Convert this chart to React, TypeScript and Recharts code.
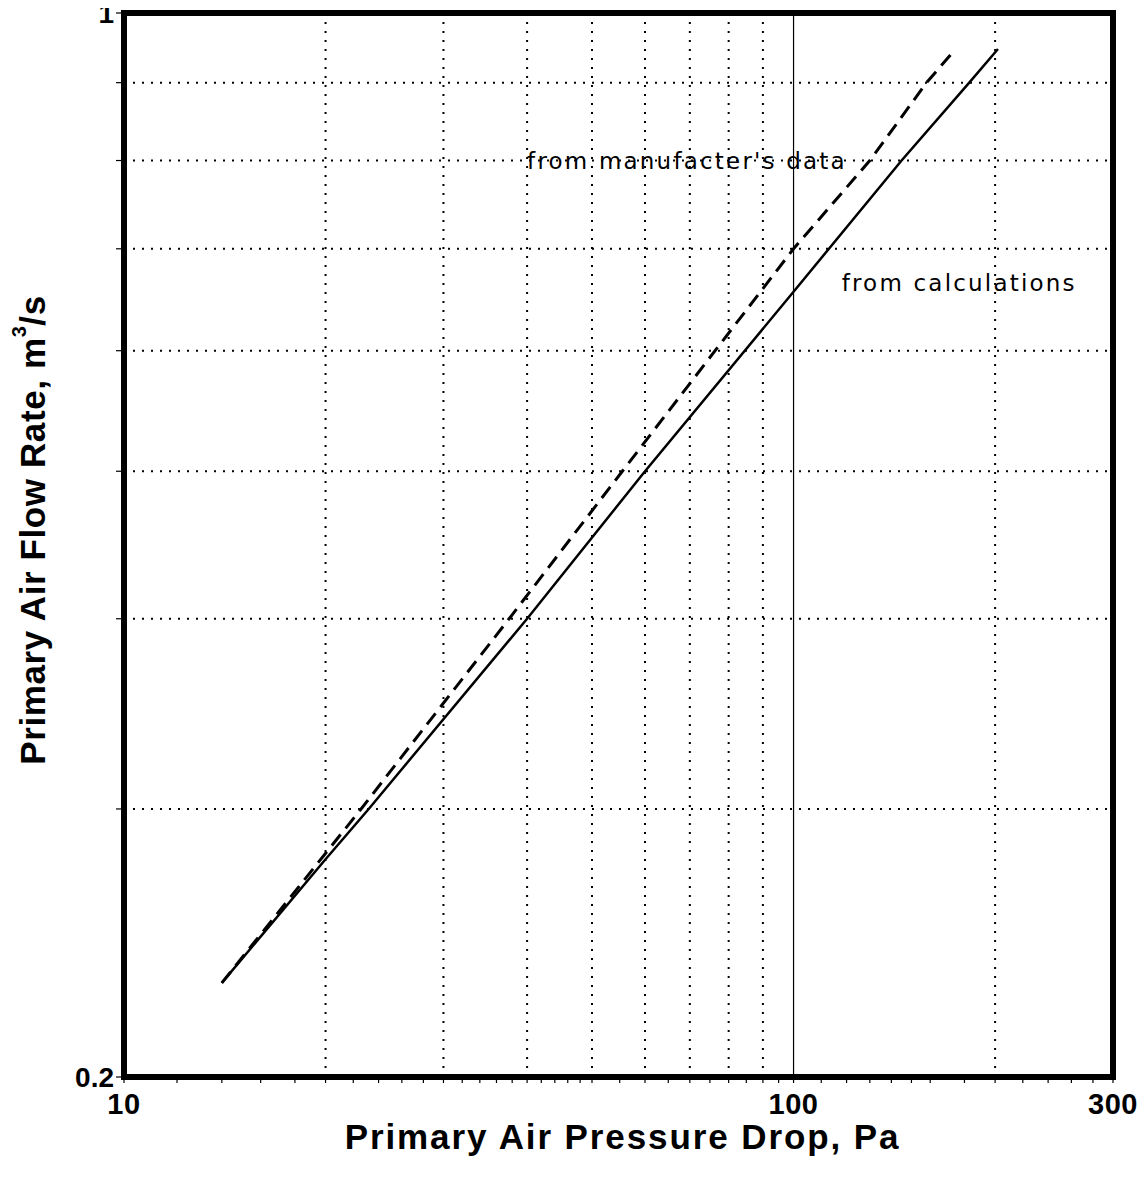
import React from "react";
import {
  LineChart,
  Line,
  XAxis,
  YAxis,
  ReferenceLine,
  ReferenceArea,
  ReferenceDot,
} from "recharts";

// pressure drop (Pa) vs flow (m3/s)
const CALC_DP = [14, 20, 23.2, 40, 60, 100, 145, 183, 202];
const CALC_Q = [0.2306, 0.278, 0.3, 0.4, 0.5, 0.656, 0.8, 0.9, 0.947];
const MFR_DP = [14, 22.6, 37.6, 55.5, 100, 130, 158, 173.5];
const MFR_Q = [0.2306, 0.3, 0.4, 0.5, 0.7, 0.8, 0.9, 0.944];

const X_TICKS = [
  10, 12, 14, 16, 18, 20, 22, 24, 26, 28, 30, 32, 34, 36, 38, 40, 42, 44, 46, 48, 50,
  55, 60, 65, 70, 75, 80, 85, 90, 95, 100, 110, 120, 130, 140, 150, 160, 180, 200,
  220, 240, 260, 280, 300,
];
const X_LABELED = [10, 100, 300];
const Y_TICKS = [0.2, 0.3, 0.4, 0.5, 0.6, 0.7, 0.8, 0.9, 1];
const Y_LABELED = [0.2, 1];
const X_GRID = [20, 30, 40, 50, 60, 70, 80, 90, 200];
const X_SOLID = [100];
const Y_GRID = [0.3, 0.4, 0.5, 0.6, 0.7, 0.8, 0.9];

const NOTE_CALC = { x: 118, y: 0.665, text: "from calculations" };
const NOTE_MFR = { x: 40, y: 0.8, text: "from manufacter's data" };

const FONT = "'Liberation Sans', Arial, Helvetica, sans-serif";
const NOTE_FONT = "'DejaVu Sans', sans-serif";
const DOTTED = "2 7";

const calcData = CALC_DP.map((x, i) => ({ x, y: CALC_Q[i] }));
const mfrData = MFR_DP.map((x, i) => ({ x, y: MFR_Q[i] }));

const noteLabel = (text: string) => (props: any) => {
  const vb = props.viewBox || {};
  return (
    <text
      x={vb.x}
      y={vb.y}
      dominantBaseline="central"
      fontFamily={NOTE_FONT}
      fontSize={23}
      letterSpacing={2.2}
      fill="#000"
    >
      {text}
    </text>
  );
};

const xLabel = (props: any) => {
  const vb = props.viewBox || {};
  return (
    <text
      x={vb.x + vb.width / 2 + 4}
      y={vb.y + 72}
      textAnchor="middle"
      fontFamily={FONT}
      fontWeight="bold"
      fontSize={35}
      letterSpacing={1.9}
      fill="#000"
    >
      Primary Air Pressure Drop, Pa
    </text>
  );
};

const yLabel = (props: any) => {
  const vb = props.viewBox || {};
  const cx = 24;
  const cy = vb.y + vb.height / 2 - 15;
  return (
    <text
      x={cx}
      y={cy}
      transform={`rotate(-90, ${cx}, ${cy})`}
      textAnchor="middle"
      dominantBaseline="central"
      fontFamily={FONT}
      fontWeight="bold"
      fontSize={35}
      letterSpacing={0.6}
      fill="#000"
    >
      Primary Air Flow Rate, m
      <tspan dy={-13} fontSize={20}>3</tspan>
      <tspan dy={13}>/s</tspan>
    </text>
  );
};

const XTick = (props: any) => {
  const { x, y, payload } = props;
  if (!X_LABELED.includes(payload.value)) return <g />;
  return (
    <text x={x} y={y} dy="0.72em" textAnchor="middle" fontFamily={FONT} fontWeight="bold" fontSize={29} letterSpacing={0.5} fill="#000">
      {payload.value}
    </text>
  );
};

const YTick = (props: any) => {
  const { x, y, payload } = props;
  if (!Y_LABELED.includes(payload.value)) return <g />;
  return (
    <text x={x} y={y} dy="0.36em" textAnchor="end" fontFamily={FONT} fontWeight="bold" fontSize={28} fill="#000">
      {payload.value}
    </text>
  );
};

export default function App() {
  return (
    <div style={{ fontFamily: FONT }}>
      <LineChart
        width={1131}
        height={1160}
        margin={{ top: 5, right: 26, left: 0, bottom: 0 }}
      >
        <XAxis
          type="number"
          dataKey="x"
          scale="log"
          domain={[10, 300]}
          allowDataOverflow
          ticks={X_TICKS}
          interval={0}
          tick={<XTick />}
          tickLine={{ stroke: "#000", strokeWidth: 1.2 }}
          tickSize={6}
          tickMargin={10}
          axisLine={false}
          height={91}
          label={{ content: xLabel }}
        />
        <YAxis
          type="number"
          dataKey="y"
          scale="log"
          domain={[0.2, 1]}
          allowDataOverflow
          ticks={Y_TICKS}
          interval={0}
          tick={<YTick />}
          tickLine={{ stroke: "#000", strokeWidth: 1.2 }}
          tickSize={8}
          tickMargin={2}
          axisLine={false}
          width={116}
          label={{ content: yLabel }}
        />

        {X_GRID.map((v) => (
          <ReferenceLine key={`gx${v}`} x={v} stroke="#000" strokeWidth={2} strokeDasharray={DOTTED} />
        ))}
        {Y_GRID.map((v) => (
          <ReferenceLine key={`gy${v}`} y={v} stroke="#000" strokeWidth={2} strokeDasharray={DOTTED} />
        ))}
        {X_SOLID.map((v) => (
          <ReferenceLine key={`sx${v}`} x={v} stroke="#000" strokeWidth={1.2} />
        ))}

        <Line
          data={mfrData}
          dataKey="y"
          type="linear"
          stroke="#000"
          strokeWidth={3}
          strokeDasharray="14 8"
          dot={false}
          activeDot={false}
          isAnimationActive={false}
        />
        <Line
          data={calcData}
          dataKey="y"
          type="linear"
          stroke="#000"
          strokeWidth={2.5}
          dot={false}
          activeDot={false}
          isAnimationActive={false}
        />

        <ReferenceDot
          x={NOTE_MFR.x}
          y={NOTE_MFR.y}
          r={0}
          fill="none"
          stroke="none"
          label={{ content: noteLabel(NOTE_MFR.text) }}
        />
        <ReferenceDot
          x={NOTE_CALC.x}
          y={NOTE_CALC.y}
          r={0}
          fill="none"
          stroke="none"
          label={{ content: noteLabel(NOTE_CALC.text) }}
        />

        <ReferenceArea
          x1={10}
          x2={300}
          y1={0.2}
          y2={1}
          fill="none"
          fillOpacity={0}
          stroke="#000"
          strokeWidth={6}
        />
      </LineChart>
    </div>
  );
}
